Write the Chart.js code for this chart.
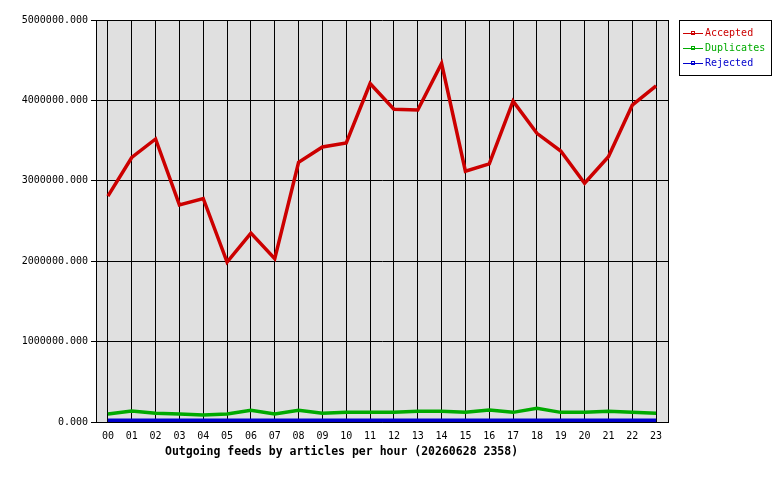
<!DOCTYPE html>
<html>
<head>
<meta charset="utf-8">
<script src="https://cdn.jsdelivr.net/npm/chart.js@4.4.1/dist/chart.umd.min.js"></script>
<style>
  body { margin: 0; background: #fff; }
  #feeds { display: block; }
</style>
</head>
<body>
<canvas id="feeds" width="780" height="480"></canvas>
<script>
const hours = ["00","01","02","03","04","05","06","07","08","09","10","11",
               "12","13","14","15","16","17","18","19","20","21","22","23"];
const accepted = [2810000, 3290000, 3520000, 2700000, 2780000, 1990000, 2350000, 2030000,
                  3230000, 3420000, 3470000, 4210000, 3890000, 3880000, 4460000, 3120000,
                  3210000, 3990000, 3590000, 3370000, 2970000, 3300000, 3940000, 4180000];
const duplicates = [100000, 137000, 110000, 100000, 87000, 100000, 145000, 100000,
                    145000, 108000, 120000, 120000, 120000, 133000, 133000, 120000,
                    150000, 120000, 170000, 120000, 120000, 133000, 120000, 108000];
const rejected = [21000, 21000, 21000, 21000, 21000, 21000, 21000, 21000,
                  21000, 21000, 21000, 21000, 21000, 21000, 21000, 21000,
                  21000, 21000, 21000, 21000, 21000, 21000, 21000, 21000];
const chartTitle = "Outgoing feeds by articles per hour (20260628 2358)";

const mono = "'DejaVu Sans Mono', 'Liberation Mono', monospace";

// grey plot background, right edge of the frame, title and boxed legend
const plotFrame = {
    id: "plotFrame",
    beforeDraw(chart) {
        const a = chart.chartArea, ctx = chart.ctx;
        ctx.save();
        ctx.fillStyle = "#e0e0e0";
        ctx.fillRect(a.left, a.top, a.right - a.left, a.bottom - a.top);
        ctx.restore();
    },
    afterDraw(chart) {
        const a = chart.chartArea, ctx = chart.ctx;
        ctx.save();
        ctx.strokeStyle = "#000";
        ctx.lineWidth = 1;
        ctx.beginPath();
        ctx.moveTo(Math.round(a.right) + 0.5, a.top);
        ctx.lineTo(Math.round(a.right) + 0.5, a.bottom);
        ctx.stroke();

        // bottom title
        ctx.fillStyle = "#000";
        ctx.font = "bold 11.5px " + mono;
        ctx.textBaseline = "middle";
        ctx.textAlign = "left";
        ctx.fillText(chartTitle, a.left + 69, 452);

        // legend box
        const lx = a.right + 11, ly = a.top, lw = 92, lh = 55;
        ctx.strokeRect(lx + 0.5, ly + 0.5, lw, lh);
        ctx.font = "10px " + mono;
        chart.data.datasets.forEach((ds, i) => {
            const y = ly + 13 + i * 15;
            ctx.strokeStyle = ds.borderColor;
            ctx.lineWidth = 1;
            ctx.beginPath();
            ctx.moveTo(lx + 4, y + 0.5);
            ctx.lineTo(lx + 24, y + 0.5);
            ctx.stroke();
            ctx.strokeRect(lx + 12.5, y - 1.5, 3, 3);
            ctx.fillStyle = ds.borderColor;
            ctx.fillText(ds.label, lx + 26, y);
        });
        ctx.restore();
    }
};

new Chart(document.getElementById("feeds"), {
    type: "line",
    data: {
        labels: hours,
        datasets: [
            { label: "Accepted", data: accepted, borderColor: "#cc0000" },
            { label: "Duplicates", data: duplicates, borderColor: "#00aa00" },
            { label: "Rejected", data: rejected, borderColor: "#0000cc" },
        ],
    },
    options: {
        responsive: false,
        animation: false,
        layout: { padding: { top: 20, right: 112, left: 0, bottom: 0 } },
        elements: {
            line: { borderWidth: 3.5, tension: 0 },
            point: { radius: 0 },
        },
        plugins: {
            legend: { display: false },
            tooltip: { enabled: false },
        },
        scales: {
            x: {
                offset: true,
                grid: { offset: false, color: "#000", lineWidth: 1, drawTicks: false },
                border: { color: "#000" },
                ticks: { color: "#000", font: { family: mono, size: 10 }, padding: 8,
                         maxRotation: 0, autoSkip: false },
                afterFit(s) { s.height = 58; },
            },
            y: {
                min: 0,
                max: 5000000,
                grid: { color: "#000", lineWidth: 1, tickLength: 5 },
                border: { color: "#000" },
                ticks: {
                    stepSize: 1000000,
                    color: "#000",
                    font: { family: mono, size: 10 },
                    padding: 3,
                    callback: (v) => v.toFixed(3),
                },
                afterFit(s) { s.width = 96; },
            },
        },
    },
    plugins: [plotFrame],
});
</script>
</body>
</html>
